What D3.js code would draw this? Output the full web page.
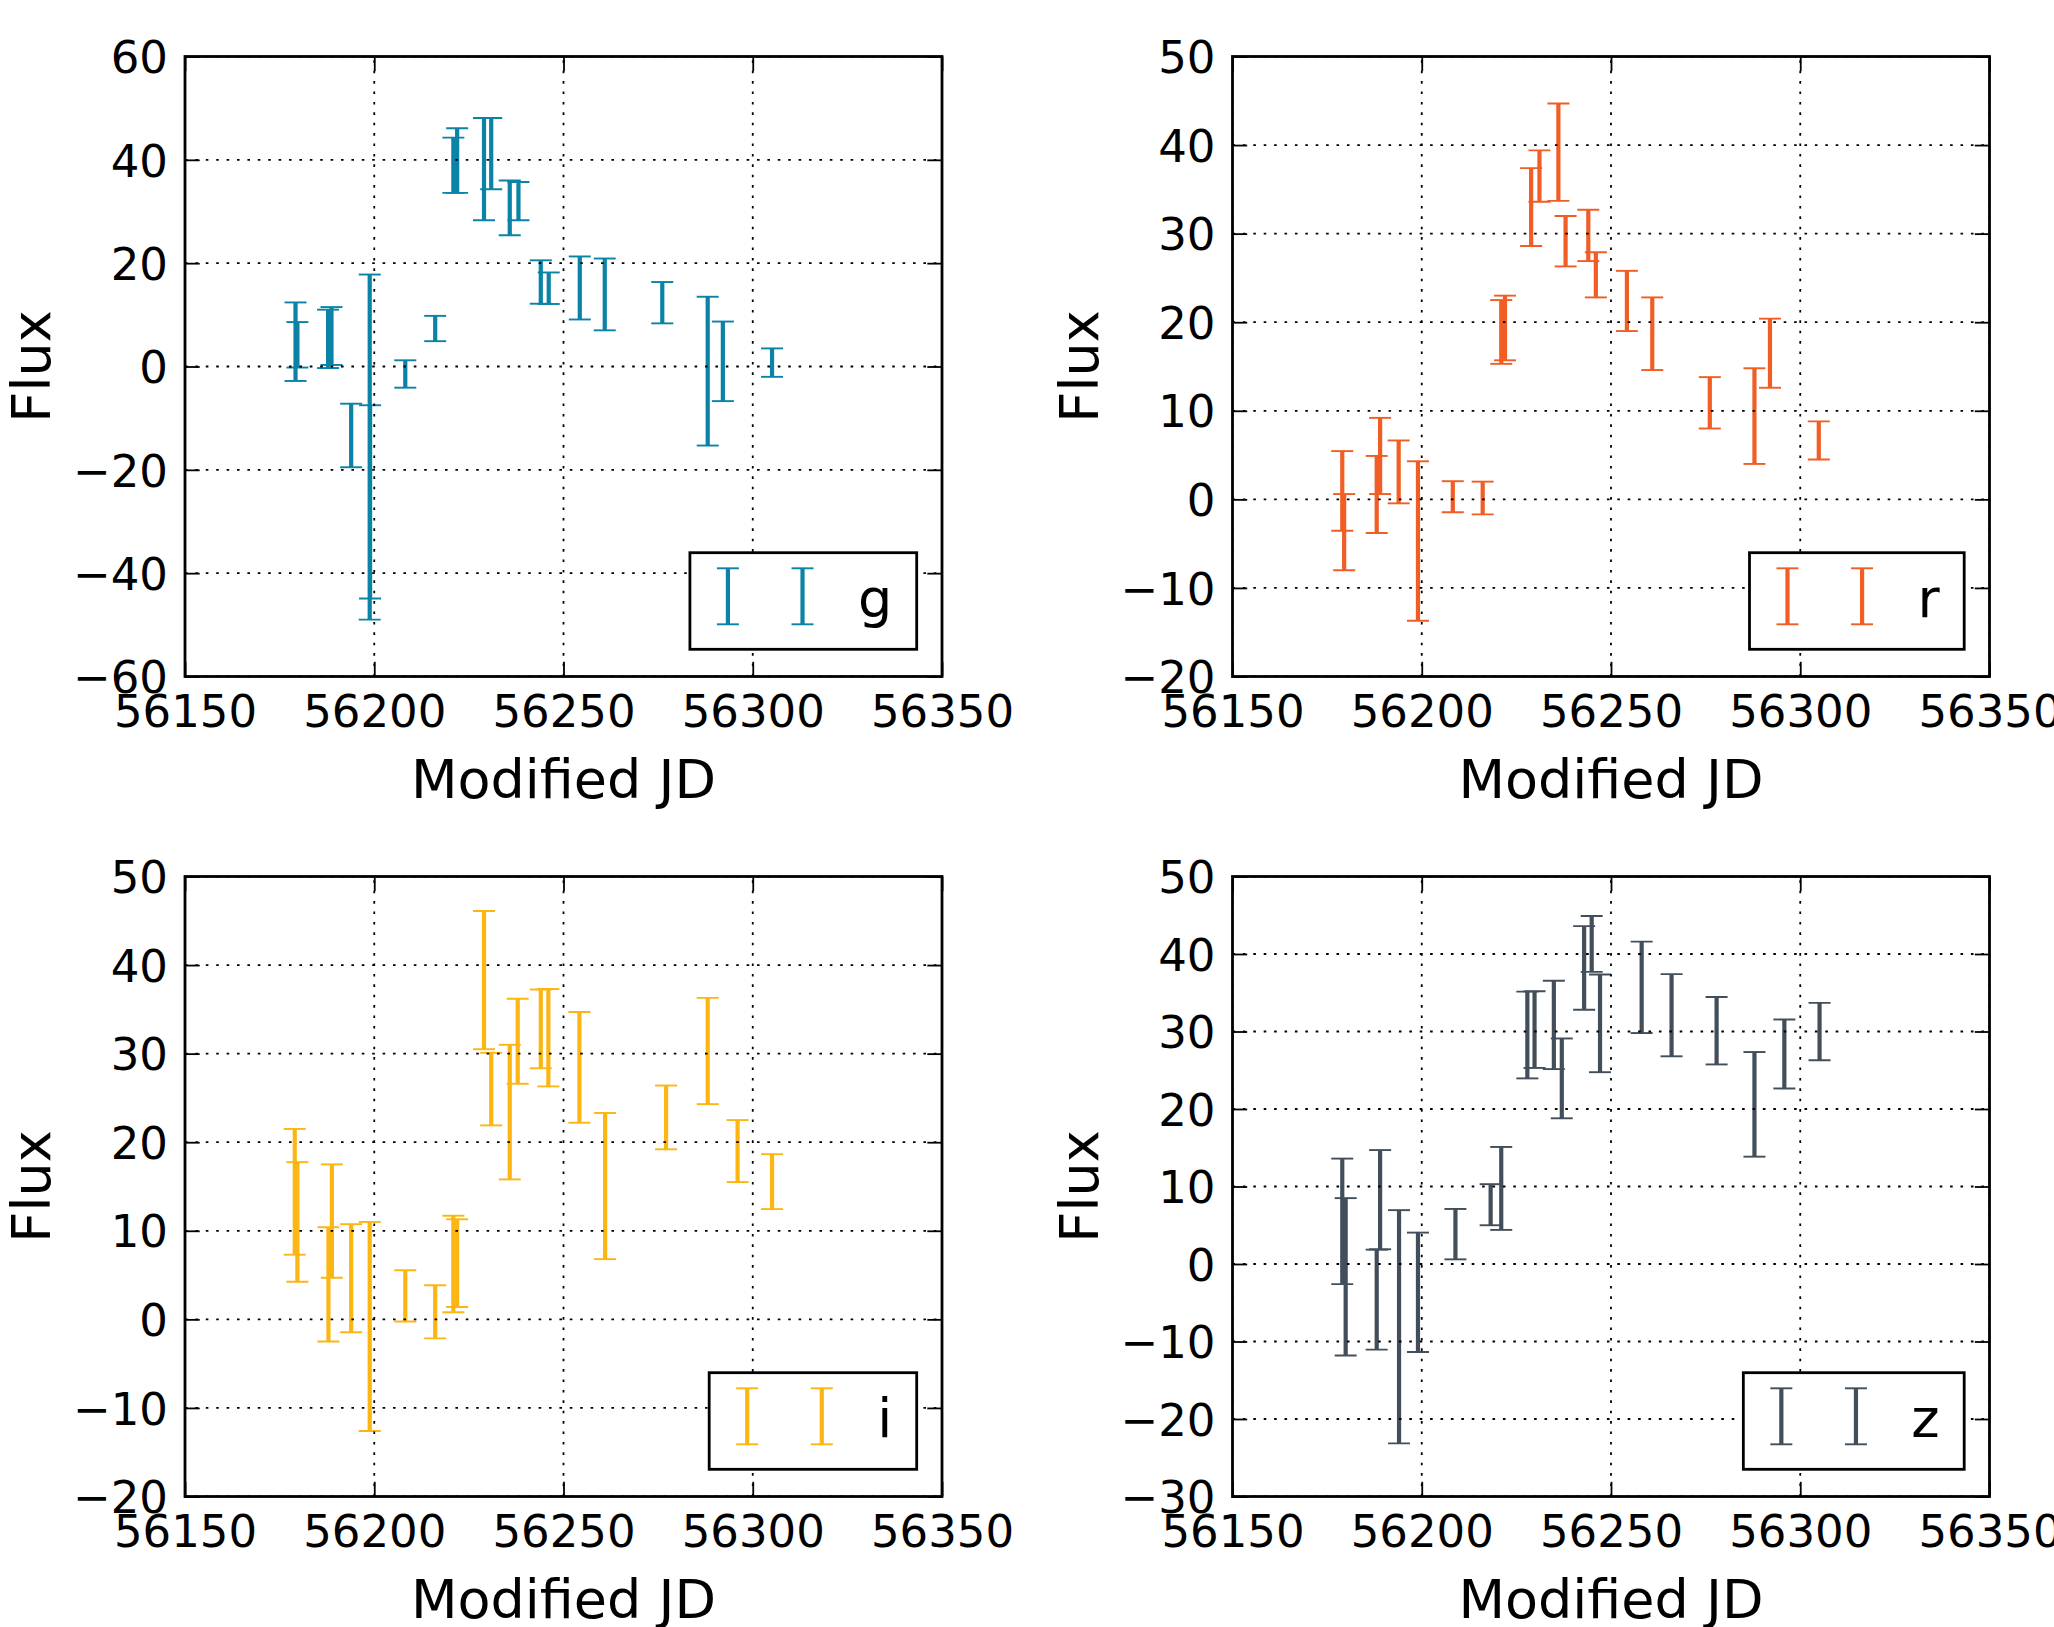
<!DOCTYPE html>
<html>
<head>
<meta charset="utf-8">
<script src="https://cdn.jsdelivr.net/npm/d3@7"></script>
<style>
  html, body { margin: 0; padding: 0; background: #ffffff; }
  svg { display: block; }
</style>
</head>
<body>
<script>
// ---- light-curve data: one set of arrays per filter band ----
const xTicks = [56150, 56200, 56250, 56300, 56350];
const xDomain = [56150, 56350];

const gMjd  = [56179.2, 56179.7, 56187.8, 56188.7, 56193.9, 56198.8, 56198.9, 56208.2, 56216.1, 56220.9, 56221.9, 56229.0, 56230.9, 56235.8, 56238.1, 56244.0, 56246.1, 56254.3, 56260.9, 56276.1, 56288.1, 56292.1, 56305.1];
const gFlux = [4.8, 4.2, 5.35, 5.9, -13.35, -15.6, -26.2, -1.45, 7.35, 38.95, 39.85, 38.2, 41.2, 30.7, 32.0, 16.35, 15.15, 15.2, 13.95, 12.35, -0.9, 1.0, 0.75];
const gErr  = [7.6, 4.4, 5.65, 5.6, 6.15, 33.4, 18.7, 2.65, 2.45, 5.35, 6.25, 9.9, 6.9, 5.3, 3.7, 4.2, 3.05, 6.1, 6.95, 4.0, 14.4, 7.7, 2.75];
const gTicks = [-60, -40, -20, 0, 20, 40, 60];

const rMjd  = [56179.0, 56179.5, 56188.1, 56189.0, 56193.9, 56199.0, 56208.2, 56216.1, 56221.0, 56222.0, 56228.9, 56231.1, 56236.1, 56238.0, 56244.0, 56246.0, 56254.2, 56260.9, 56276.1, 56287.9, 56292.0, 56304.9];
const rFlux = [0.95, -3.7, 0.55, 4.9, 3.1, -4.7, 0.3, 0.15, 18.9, 19.35, 33.0, 36.5, 39.2, 29.15, 29.8, 25.35, 22.4, 18.7, 10.9, 9.4, 16.5, 6.65];
const rErr  = [4.5, 4.3, 4.35, 4.3, 3.55, 9.0, 1.75, 1.85, 3.6, 3.65, 4.4, 2.9, 5.5, 2.85, 2.9, 2.55, 3.4, 4.1, 2.9, 5.4, 3.9, 2.15];
const rTicks = [-20, -10, 0, 10, 20, 30, 40, 50];

const iMjd  = [56179.0, 56179.7, 56187.9, 56188.8, 56193.9, 56198.8, 56208.2, 56216.1, 56220.9, 56221.9, 56229.0, 56230.9, 56235.8, 56237.9, 56244.0, 56246.0, 56254.2, 56261.0, 56277.1, 56288.1, 56296.0, 56305.1];
const iFlux = [14.4, 11.0, 3.95, 11.1, 4.65, -0.8, 2.65, 0.85, 6.25, 6.35, 38.3, 26.0, 23.4, 31.4, 32.8, 31.8, 28.45, 15.05, 22.8, 30.3, 19.0, 15.55];
const iErr  = [7.1, 6.75, 6.45, 6.4, 6.1, 11.8, 2.9, 3.0, 5.45, 4.95, 7.8, 4.1, 7.6, 4.8, 4.45, 5.5, 6.25, 8.25, 3.6, 6.0, 3.5, 3.1];
const iTicks = [-20, -10, 0, 10, 20, 30, 40, 50];

const zMjd  = [56179.0, 56179.9, 56188.1, 56189.0, 56194.0, 56199.0, 56208.9, 56218.2, 56221.0, 56227.9, 56229.8, 56234.9, 56237.0, 56242.9, 56244.9, 56247.1, 56258.1, 56266.0, 56277.9, 56287.9, 56295.8, 56305.1];
const zFlux = [5.5, -1.65, -4.6, 8.3, -8.1, -3.65, 3.85, 7.65, 9.75, 29.55, 30.25, 30.85, 23.95, 38.2, 41.3, 31.05, 35.7, 32.1, 30.1, 20.6, 27.1, 30.0];
const zErr  = [8.1, 10.15, 6.45, 6.4, 15.05, 7.7, 3.25, 2.65, 5.35, 5.6, 4.95, 5.7, 5.15, 5.4, 3.6, 6.3, 5.9, 5.3, 4.35, 6.75, 4.45, 3.7];
const zTicks = [-30, -20, -10, 0, 10, 20, 30, 40, 50];

const bands = ["g", "r", "i", "z"];

// ---- appearance ----
const bandColor = { g: "#0a83a6", r: "#f15d24", i: "#fbb614", z: "#424f5b" };
const W = 2054, H = 1627;
const colLeft = [185, 1232.5];
const rowTop = [56.5, 876.5];
const plotW = 757, plotH = 620;
const tickFont = 45, labelFont = 54, legendFont = 54;
const FONT = "'DejaVu Sans', 'Liberation Sans', sans-serif";
const tickLen = 14.7;

const panels = [
  { band: "g", mjd: gMjd, flux: gFlux, err: gErr, yTicks: gTicks, col: 0, row: 0 },
  { band: "r", mjd: rMjd, flux: rFlux, err: rErr, yTicks: rTicks, col: 1, row: 0 },
  { band: "i", mjd: iMjd, flux: iFlux, err: iErr, yTicks: iTicks, col: 0, row: 1 },
  { band: "z", mjd: zMjd, flux: zFlux, err: zErr, yTicks: zTicks, col: 1, row: 1 }
];

const svg = d3.select("body").append("svg")
  .attr("width", W).attr("height", H)
  .attr("viewBox", `0 0 ${W} ${H}`)
  .style("font-family", FONT);

svg.append("rect").attr("width", W).attr("height", H).attr("fill", "#ffffff");

const minus = d3.format("");   // d3 v7 formats negatives with U+2212

panels.forEach((p, idx) => {
  const left = colLeft[p.col], top = rowTop[p.row];
  const right = left + plotW, bottom = top + plotH;
  const x = d3.scaleLinear().domain(xDomain).range([left, right]);
  const yDom = d3.extent(p.yTicks);
  const y = d3.scaleLinear().domain(yDom).range([bottom, top]);
  const color = bandColor[p.band];

  const g = svg.append("g").attr("class", "panel-" + p.band);

  const clipId = "clip-" + p.band;
  g.append("clipPath").attr("id", clipId)
    .append("rect").attr("x", left).attr("y", top).attr("width", plotW).attr("height", plotH);

  // error bars
  const pts = p.mjd.map((m, k) => ({ m, f: p.flux[k], e: p.err[k] }));
  const data = g.append("g").attr("clip-path", `url(#${clipId})`);
  const bar = data.selectAll("g.eb").data(pts).join("g").attr("class", "eb");
  bar.append("line")
    .attr("x1", d => x(d.m)).attr("x2", d => x(d.m))
    .attr("y1", d => y(d.f - d.e)).attr("y2", d => y(d.f + d.e))
    .attr("stroke", color).attr("stroke-width", 4.2);
  [-1, 1].forEach(s => {
    bar.append("line")
      .attr("x1", d => x(d.m) - 11).attr("x2", d => x(d.m) + 11)
      .attr("y1", d => y(d.f + s * d.e)).attr("y2", d => y(d.f + s * d.e))
      .attr("stroke", color).attr("stroke-width", 1.9);
  });

  // dotted grid, drawn over the data
  const grid = g.append("g").attr("clip-path", `url(#${clipId})`)
    .attr("stroke", "#000").attr("stroke-width", 1.8).attr("stroke-dasharray", "2.6,7.8");
  grid.selectAll("line.gx").data(xTicks).join("line").attr("class", "gx")
    .attr("x1", d => x(d)).attr("x2", d => x(d)).attr("y1", bottom).attr("y2", top);
  grid.selectAll("line.gy").data(p.yTicks).join("line").attr("class", "gy")
    .attr("x1", left).attr("x2", right).attr("y1", d => y(d)).attr("y2", d => y(d));

  // axes with inward ticks on all four sides
  const styleAxis = sel => {
    sel.select(".domain").remove();
    sel.selectAll(".tick line").attr("stroke", "#000").attr("stroke-width", 1.8);
    sel.selectAll(".tick text").attr("fill", "#000").style("font-family", FONT);
  };
  g.append("g").attr("transform", `translate(0,${bottom})`)
    .call(d3.axisBottom(x).tickValues(xTicks).tickFormat(d3.format("d")).tickSize(-tickLen).tickPadding(19))
    .call(styleAxis)
    .call(s => s.selectAll(".tick text").attr("font-size", tickFont));
  g.append("g").attr("transform", `translate(0,${top})`)
    .call(d3.axisTop(x).tickValues(xTicks).tickFormat("").tickSize(-tickLen))
    .call(styleAxis);
  g.append("g").attr("transform", `translate(${left},0)`)
    .call(d3.axisLeft(y).tickValues(p.yTicks).tickFormat(minus).tickSize(-tickLen).tickPadding(17))
    .call(styleAxis)
    .call(s => s.selectAll(".tick text").attr("font-size", tickFont).attr("dy", "0.36em"));
  g.append("g").attr("transform", `translate(${right},0)`)
    .call(d3.axisRight(y).tickValues(p.yTicks).tickFormat("").tickSize(-tickLen))
    .call(styleAxis);

  // frame
  g.append("rect").attr("x", left).attr("y", top).attr("width", plotW).attr("height", plotH)
    .attr("fill", "none").attr("stroke", "#000").attr("stroke-width", 2.8);

  // axis titles
  g.append("text").attr("x", (left + right) / 2).attr("y", bottom + 121)
    .attr("text-anchor", "middle").attr("font-size", labelFont).attr("fill", "#000")
    .text("Modified JD");
  g.append("text")
    .attr("transform", `translate(${left - 135},${(top + bottom) / 2}) rotate(-90)`)
    .attr("text-anchor", "middle").attr("font-size", labelFont).attr("fill", "#000")
    .text("Flux");

  // legend: two error-bar handles followed by the band name
  const leg = g.append("g");
  const legBottom = bottom - 27.2, legH = 96.6, legTop = legBottom - legH;
  const label = leg.append("text").attr("font-size", legendFont).attr("fill", "#000").text(p.band);
  const adv = label.node().getComputedTextLength();
  const legW = 168 + adv + 24.5;
  const legLeft = right - 25.3 - legW;
  leg.insert("rect", "text").attr("x", legLeft).attr("y", legTop).attr("width", legW).attr("height", legH)
    .attr("fill", "#fff").attr("stroke", "#000").attr("stroke-width", 2.8);
  label.attr("x", legLeft + 168).attr("y", legTop + 64);
  [38, 112.6].forEach(dx => {
    const hx = legLeft + dx, y1 = legTop + 15.6, y2 = legTop + 71.6;
    leg.append("line").attr("x1", hx).attr("x2", hx).attr("y1", y1).attr("y2", y2)
      .attr("stroke", color).attr("stroke-width", 4.2);
    [y1, y2].forEach(cy => leg.append("line").attr("x1", hx - 11).attr("x2", hx + 11)
      .attr("y1", cy).attr("y2", cy).attr("stroke", color).attr("stroke-width", 1.9));
  });
});
</script>
</body>
</html>
